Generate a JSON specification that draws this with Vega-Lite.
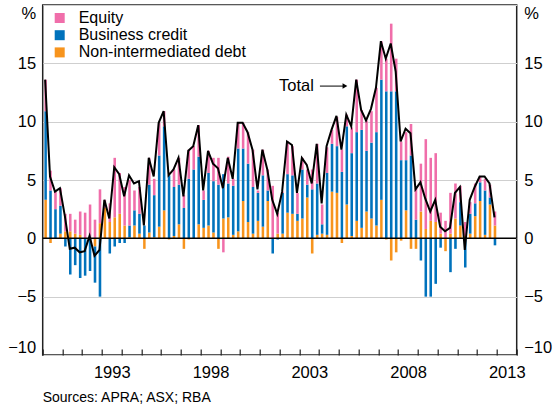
{
  "$schema": "https://vega.github.io/schema/vega-lite/v6.json",
  "width": 474,
  "height": 350,
  "autosize": "none",
  "padding": {"left": 42.7, "top": 5, "right": 41.3, "bottom": 51},
  "config": {
    "font": "Liberation Sans",
    "view": {"stroke": "#222222", "strokeWidth": 1.5},
    "axis": {"labelFont": "Liberation Sans", "labelColor": "#000000", "labelFontSize": 16.5},
    "legend": {"labelFont": "Liberation Sans"}
  },
  "title": {
    "text": "Sources: APRA; ASX; RBA",
    "orient": "bottom",
    "anchor": "start",
    "frame": "group",
    "fontSize": 14,
    "fontWeight": "normal",
    "font": "Liberation Sans",
    "color": "#000000",
    "offset": 10
  },
  "datasets": {
    "q": [
      {"d":"1990-03","nid":3.3,"bc":7.6,"eq":2.7,"tot":13.6},
      {"d":"1990-06","nid":-0.4,"bc":4.1,"eq":1.7,"tot":5.3},
      {"d":"1990-09","nid":0.0,"bc":2.5,"eq":1.5,"tot":4.0},
      {"d":"1990-12","nid":0.4,"bc":2.4,"eq":1.5,"tot":4.3},
      {"d":"1991-03","nid":0.6,"bc":-0.7,"eq":1.5,"tot":1.9},
      {"d":"1991-06","nid":0.6,"bc":-3.1,"eq":1.5,"tot":-0.9},
      {"d":"1991-09","nid":0.4,"bc":-2.3,"eq":1.2,"tot":-0.8},
      {"d":"1991-12","nid":0.3,"bc":-3.4,"eq":2.0,"tot":-1.2},
      {"d":"1992-03","nid":0.0,"bc":-3.2,"eq":2.2,"tot":-1.1},
      {"d":"1992-06","nid":0.0,"bc":-2.8,"eq":2.9,"tot":0.2},
      {"d":"1992-09","nid":-0.7,"bc":-3.1,"eq":1.6,"tot":-1.5},
      {"d":"1992-12","nid":1.3,"bc":-5.0,"eq":2.9,"tot":-1.0},
      {"d":"1993-03","nid":2.6,"bc":0.0,"eq":0.7,"tot":3.3},
      {"d":"1993-06","nid":1.4,"bc":-1.3,"eq":1.6,"tot":1.7},
      {"d":"1993-09","nid":1.8,"bc":-0.7,"eq":5.1,"tot":6.1},
      {"d":"1993-12","nid":2.1,"bc":-0.4,"eq":3.5,"tot":5.5},
      {"d":"1994-03","nid":1.1,"bc":-0.4,"eq":3.3,"tot":3.6},
      {"d":"1994-06","nid":0.1,"bc":1.0,"eq":3.9,"tot":5.4},
      {"d":"1994-09","nid":1.1,"bc":1.3,"eq":1.7,"tot":4.7},
      {"d":"1994-12","nid":0.4,"bc":1.7,"eq":2.3,"tot":4.9},
      {"d":"1995-03","nid":-0.9,"bc":1.1,"eq":0.0,"tot":1.1},
      {"d":"1995-06","nid":0.5,"bc":4.1,"eq":2.3,"tot":6.9},
      {"d":"1995-09","nid":0.1,"bc":3.6,"eq":1.4,"tot":5.3},
      {"d":"1995-12","nid":1.0,"bc":6.1,"eq":2.8,"tot":9.9},
      {"d":"1996-03","nid":2.4,"bc":7.2,"eq":1.3,"tot":10.9},
      {"d":"1996-06","nid":-0.1,"bc":5.4,"eq":0.0,"tot":5.4},
      {"d":"1996-09","nid":0.2,"bc":4.2,"eq":1.5,"tot":5.9},
      {"d":"1996-12","nid":1.2,"bc":3.4,"eq":2.3,"tot":6.9},
      {"d":"1997-03","nid":-0.9,"bc":2.6,"eq":1.1,"tot":3.6},
      {"d":"1997-06","nid":-0.1,"bc":5.1,"eq":2.5,"tot":7.5},
      {"d":"1997-09","nid":0.0,"bc":5.9,"eq":2.0,"tot":7.9},
      {"d":"1997-12","nid":1.2,"bc":5.8,"eq":2.7,"tot":9.7},
      {"d":"1998-03","nid":0.9,"bc":2.4,"eq":0.8,"tot":4.1},
      {"d":"1998-06","nid":1.1,"bc":4.5,"eq":1.9,"tot":7.5},
      {"d":"1998-09","nid":0.5,"bc":4.4,"eq":2.0,"tot":6.4},
      {"d":"1998-12","nid":-0.9,"bc":4.6,"eq":2.3,"tot":6.0},
      {"d":"1999-03","nid":1.7,"bc":3.8,"eq":-1.2,"tot":4.3},
      {"d":"1999-06","nid":1.8,"bc":2.9,"eq":2.3,"tot":6.9},
      {"d":"1999-09","nid":0.3,"bc":4.2,"eq":0.6,"tot":5.1},
      {"d":"1999-12","nid":0.6,"bc":7.1,"eq":2.2,"tot":9.9},
      {"d":"2000-03","nid":3.2,"bc":4.5,"eq":2.2,"tot":9.9},
      {"d":"2000-06","nid":1.4,"bc":5.0,"eq":2.7,"tot":9.1},
      {"d":"2000-09","nid":0.4,"bc":4.0,"eq":3.2,"tot":7.6},
      {"d":"2000-12","nid":1.5,"bc":2.4,"eq":0.2,"tot":4.2},
      {"d":"2001-03","nid":1.0,"bc":4.4,"eq":2.2,"tot":7.6},
      {"d":"2001-06","nid":3.2,"bc":0.9,"eq":1.8,"tot":5.9},
      {"d":"2001-09","nid":0.0,"bc":-1.3,"eq":4.5,"tot":3.3},
      {"d":"2001-12","nid":0.4,"bc":-0.1,"eq":1.8,"tot":2.1},
      {"d":"2002-03","nid":0.4,"bc":3.5,"eq":0.1,"tot":4.0},
      {"d":"2002-06","nid":2.2,"bc":3.3,"eq":2.8,"tot":8.3},
      {"d":"2002-09","nid":2.1,"bc":3.3,"eq":2.5,"tot":8.0},
      {"d":"2002-12","nid":1.5,"bc":0.6,"eq":1.8,"tot":3.9},
      {"d":"2003-03","nid":1.7,"bc":4.2,"eq":1.0,"tot":6.9},
      {"d":"2003-06","nid":3.5,"bc":1.1,"eq":1.3,"tot":6.3},
      {"d":"2003-09","nid":-1.3,"bc":4.2,"eq":1.7,"tot":4.7},
      {"d":"2003-12","nid":0.3,"bc":4.4,"eq":3.4,"tot":8.1},
      {"d":"2004-03","nid":0.4,"bc":0.8,"eq":1.7,"tot":3.0},
      {"d":"2004-06","nid":0.3,"bc":5.3,"eq":2.2,"tot":7.9},
      {"d":"2004-09","nid":4.0,"bc":4.1,"eq":1.2,"tot":9.3},
      {"d":"2004-12","nid":3.9,"bc":4.0,"eq":2.5,"tot":10.5},
      {"d":"2005-03","nid":-0.4,"bc":5.7,"eq":1.9,"tot":7.6},
      {"d":"2005-06","nid":2.9,"bc":6.7,"eq":1.0,"tot":10.6},
      {"d":"2005-09","nid":0.2,"bc":7.1,"eq":2.2,"tot":9.6},
      {"d":"2005-12","nid":1.5,"bc":7.6,"eq":4.5,"tot":13.6},
      {"d":"2006-03","nid":0.9,"bc":8.4,"eq":1.7,"tot":11.0},
      {"d":"2006-06","nid":2.3,"bc":5.2,"eq":2.6,"tot":10.1},
      {"d":"2006-09","nid":1.7,"bc":6.5,"eq":2.7,"tot":11.1},
      {"d":"2006-12","nid":1.1,"bc":8.0,"eq":3.8,"tot":12.9},
      {"d":"2007-03","nid":3.3,"bc":10.3,"eq":3.3,"tot":16.9},
      {"d":"2007-06","nid":-0.1,"bc":12.6,"eq":2.8,"tot":15.4},
      {"d":"2007-09","nid":-1.9,"bc":12.6,"eq":5.8,"tot":16.7},
      {"d":"2007-12","nid":-1.2,"bc":12.6,"eq":2.8,"tot":14.3},
      {"d":"2008-03","nid":-0.2,"bc":6.7,"eq":1.6,"tot":8.3},
      {"d":"2008-06","nid":2.4,"bc":4.3,"eq":2.4,"tot":9.4},
      {"d":"2008-09","nid":-0.9,"bc":7.1,"eq":2.7,"tot":9.0},
      {"d":"2008-12","nid":-0.9,"bc":1.6,"eq":2.7,"tot":4.2},
      {"d":"2009-03","nid":2.3,"bc":-1.9,"eq":4.1,"tot":4.8},
      {"d":"2009-06","nid":0.8,"bc":-5.0,"eq":7.7,"tot":3.4},
      {"d":"2009-09","nid":1.5,"bc":-5.0,"eq":5.4,"tot":2.3},
      {"d":"2009-12","nid":1.4,"bc":-3.9,"eq":5.9,"tot":3.3},
      {"d":"2010-03","nid":0.4,"bc":-0.8,"eq":1.8,"tot":1.0},
      {"d":"2010-06","nid":-1.1,"bc":0.0,"eq":1.5,"tot":0.6},
      {"d":"2010-09","nid":0.4,"bc":-2.9,"eq":3.5,"tot":0.9},
      {"d":"2010-12","nid":1.7,"bc":-0.9,"eq":3.0,"tot":3.9},
      {"d":"2011-03","nid":1.1,"bc":2.0,"eq":1.4,"tot":4.4},
      {"d":"2011-06","nid":0.2,"bc":-2.5,"eq":1.2,"tot":-1.0},
      {"d":"2011-09","nid":0.4,"bc":1.7,"eq":1.0,"tot":3.3},
      {"d":"2011-12","nid":1.9,"bc":1.1,"eq":1.7,"tot":4.4},
      {"d":"2012-03","nid":3.2,"bc":1.6,"eq":0.5,"tot":5.3},
      {"d":"2012-06","nid":0.3,"bc":3.8,"eq":1.0,"tot":5.3},
      {"d":"2012-09","nid":2.9,"bc":0.6,"eq":1.1,"tot":4.7},
      {"d":"2012-12","nid":1.1,"bc":-0.6,"eq":1.2,"tot":1.8}
    ]
  },
  "data": {"name": "q"},
  "layer": [
    {
      "transform": [
        {"fold": ["nid", "bc", "eq"], "as": ["key", "value"]},
        {"calculate": "datum.key == 'eq' ? 'Equity' : datum.key == 'bc' ? 'Business credit' : 'Non-intermediated debt'", "as": "series"},
        {"calculate": "indexof(['nid', 'bc', 'eq'], datum.key)", "as": "k"}
      ],
      "mark": {"type": "bar", "width": {"band": 0.72}},
      "encoding": {
        "x": {
          "field": "d", "timeUnit": "yearquarter", "type": "temporal",
          "scale": {"domain": [{"year": 1990, "month": 1, "date": 1}, {"year": 2014, "month": 1, "date": 1}], "nice": false, "padding": 0},
          "axis": {"orient": "bottom", "tickCount": {"interval": "year", "step": 1}, "labels": false, "ticks": true, "tickSize": -6, "tickColor": "#222222", "tickWidth": 1.2, "domain": false, "grid": false, "title": null}
        },
        "y": {
          "field": "value", "type": "quantitative", "stack": "zero",
          "scale": {"domain": [-10, 20], "nice": false},
          "axis": {"orient": "left", "values": [-10, -5, 0, 5, 10, 15, 20], "labelExpr": "datum.value == 20 ? '%' : datum.label", "labelFlush": true, "ticks": false, "domain": false, "grid": true, "gridColor": "#cfcfcf", "gridWidth": 1.2, "labelPadding": 7, "title": null}
        },
        "color": {
          "field": "series", "type": "nominal",
          "scale": {"domain": ["Equity", "Business credit", "Non-intermediated debt"], "range": ["#f06eaa", "#0072bc", "#f7941d"]},
          "legend": {"orient": "none", "legendX": 9, "legendY": 5, "direction": "vertical", "title": null, "symbolType": "square", "symbolSize": 100, "symbolStrokeWidth": 0, "symbolOpacity": 1, "labelFontSize": 16, "labelLimit": 400, "labelOffset": 11, "rowPadding": 1.2, "padding": 0, "labelColor": "#000000"}
        },
        "order": {"field": "k", "type": "quantitative", "sort": "ascending"}
      }
    },
    {
      "mark": {"type": "line", "color": "#000000", "strokeWidth": 2},
      "encoding": {
        "x": {
          "field": "d", "timeUnit": "yearquarter", "type": "temporal", "bandPosition": 0.5,
          "axis": {"orient": "bottom", "values": [{"year": 1993, "month": 7, "date": 2}, {"year": 1998, "month": 7, "date": 2}, {"year": 2003, "month": 7, "date": 2}, {"year": 2008, "month": 7, "date": 2}, {"year": 2013, "month": 7, "date": 2}], "labelExpr": "timeFormat(datum.value, '%Y')", "ticks": false, "domain": false, "grid": false, "labelPadding": 9, "labelFlush": false, "labelOverlap": false, "title": null}
        },
        "y": {
          "field": "tot", "type": "quantitative",
          "axis": {"orient": "right", "values": [-10, -5, 0, 5, 10, 15, 20], "labelExpr": "datum.value == 20 ? '%' : datum.label", "labelFlush": true, "ticks": false, "domain": false, "grid": false, "labelPadding": 7, "title": null}
        }
      }
    },
    {
      "data": {"values": [{}]},
      "mark": {"type": "rule", "color": "#000000", "strokeWidth": 1.5},
      "encoding": {"y": {"datum": 0, "type": "quantitative", "axis": null}}
    },
    {
      "data": {"values": [{}]},
      "mark": {"type": "text", "text": "Total", "align": "right", "baseline": "middle", "fontSize": 16.5, "font": "Liberation Sans", "color": "#000000"},
      "encoding": {
        "x": {"datum": {"year": 2003, "month": 9, "date": 26}, "type": "temporal", "axis": null},
        "y": {"datum": 13.05, "type": "quantitative", "axis": null}
      }
    },
    {
      "data": {"values": [{}]},
      "mark": {"type": "rule", "color": "#000000", "strokeWidth": 1},
      "encoding": {
        "x": {"datum": {"year": 2004, "month": 1, "date": 15}, "type": "temporal", "axis": null},
        "x2": {"datum": {"year": 2005, "month": 4, "date": 22}},
        "y": {"datum": 13.05, "type": "quantitative", "axis": null}
      }
    },
    {
      "data": {"values": [{}]},
      "mark": {"type": "point", "shape": "triangle-right", "size": 30, "filled": true, "color": "#000000", "opacity": 1},
      "encoding": {
        "x": {"datum": {"year": 2005, "month": 4, "date": 22}, "type": "temporal", "axis": null},
        "y": {"datum": 13.05, "type": "quantitative", "axis": null}
      }
    }
  ],
  "resolve": {"scale": {"x": "shared", "y": "shared"}, "axis": {"x": "independent", "y": "independent"}}
}
